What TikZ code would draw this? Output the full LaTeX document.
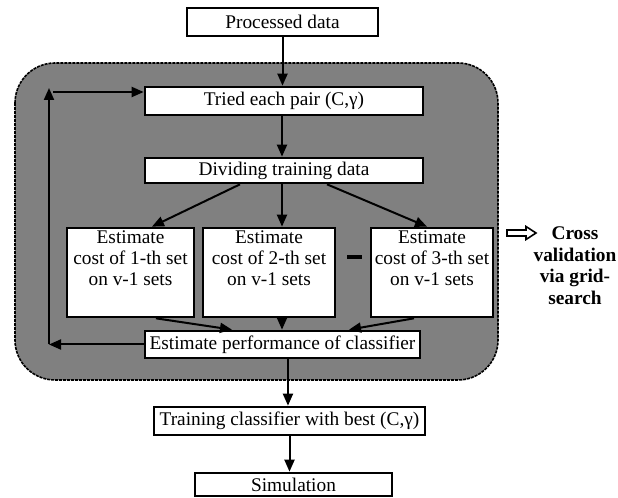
\documentclass[tikz,border=0pt]{standalone}
\usepackage{fontspec}
\setmainfont{Liberation Serif}
\usetikzlibrary{arrows.meta,calc}
\definecolor{panelgrey}{RGB}{128,128,128}
\begin{document}
\begin{tikzpicture}[x=0.75pt,y=-0.75pt,
  txt/.style={font=\fontsize{14.5}{15.8}\selectfont},
  box/.style={draw=black, line width=2pt, fill=white, inner sep=0pt, txt},
  arr/.style={line width=1.5pt, -{Triangle[length=9pt,width=7.5pt]}},
  elabel/.style={anchor=north, align=center, inner sep=2.5pt, txt},
]
\useasboundingbox (0,0) rectangle (618,498);
\fill[white] (0,0) rectangle (618,498);
% grey panel
\draw[fill=panelgrey, draw=black, line width=1.2pt, dash pattern=on 2.25pt off 0.75pt, rounded corners=30pt]
  (15,63) rectangle (498,380);

% boxes
\node[box, minimum width=143.25pt, minimum height=21pt] (proc) at (282.5,22) {Processed data};
\node[box, minimum width=208.5pt, minimum height=21pt] (tried) at (284,101) {Tried each pair (C,γ)};
\node[box, minimum width=208.5pt, minimum height=18.75pt] (div) at (284,170.5) {Dividing training data};
\node[box, minimum width=95.25pt, minimum height=66.75pt,
  label={[elabel]north:{Estimate\\cost of 1-th set\\on v-1 sets}}] (e1) at (130.5,272.5) {};
\node[box, minimum width=99pt, minimum height=66.75pt,
  label={[elabel]north:{Estimate\\cost of 2-th set\\on v-1 sets}}] (e2) at (269,272.5) {};
\node[box, minimum width=91.5pt, minimum height=66.75pt,
  label={[elabel]north:{Estimate\\cost of 3-th set\\on v-1 sets}}] (e3) at (432,272.5) {};
\node[box, minimum width=206.25pt, minimum height=20.25pt] (perf) at (282.5,344.5) {Estimate performance of classifier};
\node[box, minimum width=203.25pt, minimum height=21pt] (train) at (289.5,421) {Training classifier with best (C,γ)};
\node[box, minimum width=147.75pt, minimum height=17.25pt] (sim) at (293.5,484.5) {Simulation};

% dash between boxes
\draw[line width=3pt] (347,257) -- (362,257);

% cross validation note
\draw[line width=1.2pt, fill=white, line join=miter]
  (507,230) -- (526,230) -- (526,226.5) -- (536,233) -- (526,239.5) -- (526,236) -- (507,236) -- cycle;
\node[font=\bfseries\fontsize{14.5}{16.1}\selectfont, align=center] (cv) at (575,265.5)
  {Cross\\validation\\via grid-\\search};

% main flow
\draw[arr] (proc.south) -- (proc.south |- tried.north);
\draw[arr] ([xshift=-1.5pt]tried.south) -- ([xshift=-1.5pt]tried.south |- div.north);
\draw[arr] ([xshift=-33pt]div.south) -- ([xshift=16.1pt]e1.north);
\draw[arr] ([xshift=-1.5pt]div.south) -- ([xshift=-1.5pt]div.south |- e2.north);
\draw[arr] ([xshift=32.25pt]div.south) -- ([xshift=-3.75pt]e3.north);
\draw[arr] ([xshift=19.1pt]e1.south) -- ([xshift=-37.9pt]perf.north);
\draw[arr] ([xshift=9.75pt]e2.south) -- ([xshift=9.75pt]e2.south |- perf.north);
\draw[arr] ([xshift=-13.5pt]e3.south) -- ([xshift=49.9pt]perf.north);
\draw[arr] ([xshift=4.1pt]perf.south) -- ([xshift=4.1pt]perf.south |- train.north);
\draw[arr] (train.south) -- (train.south |- sim.north);

% feedback loop
\coordinate (L1) at (49,344.5);
\coordinate (L2) at (49,88);
\coordinate (L3) at (53,92);
\draw[arr] (perf.west) -- (L1);
\draw[arr] (L1) -- (L2);
\draw[arr] (L3) -- (L3 -| tried.west);
\end{tikzpicture}
\end{document}
